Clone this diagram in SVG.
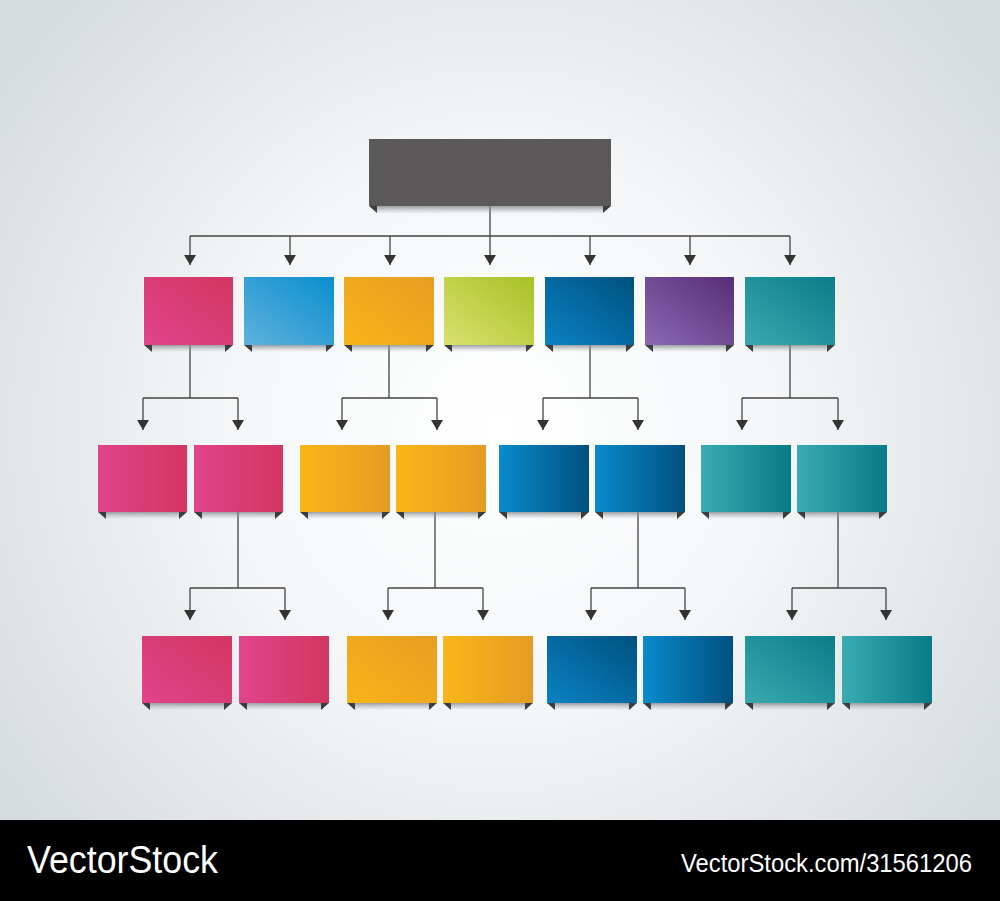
<svg xmlns="http://www.w3.org/2000/svg" width="1000" height="901" viewBox="0 0 1000 901">
<defs>
<radialGradient id="bg" cx="500" cy="430" r="620" gradientUnits="userSpaceOnUse">
<stop offset="0" stop-color="#ffffff"/>
<stop offset="0.45" stop-color="#f4f6f7"/>
<stop offset="1" stop-color="#d6dbde"/>
</radialGradient>
<linearGradient id="gPink" x1="0" y1="1" x2="1" y2="0"><stop offset="0" stop-color="#e0448c"/><stop offset="1" stop-color="#d3365f"/></linearGradient>
<linearGradient id="gBlueL" x1="0" y1="1" x2="1" y2="0"><stop offset="0" stop-color="#5fb1dc"/><stop offset="1" stop-color="#0a8fce"/></linearGradient>
<linearGradient id="gOrange" x1="0" y1="1" x2="1" y2="0"><stop offset="0" stop-color="#f8b418"/><stop offset="1" stop-color="#e69e22"/></linearGradient>
<linearGradient id="gGreen" x1="0" y1="1" x2="1" y2="0"><stop offset="0" stop-color="#d9e16e"/><stop offset="1" stop-color="#a7c126"/></linearGradient>
<linearGradient id="gBlue" x1="0" y1="1" x2="1" y2="0"><stop offset="0" stop-color="#0a82c4"/><stop offset="1" stop-color="#00517f"/></linearGradient>
<linearGradient id="gPurple" x1="0" y1="1" x2="1" y2="0"><stop offset="0" stop-color="#8c69b3"/><stop offset="1" stop-color="#582d77"/></linearGradient>
<linearGradient id="gTeal" x1="0" y1="1" x2="1" y2="0"><stop offset="0" stop-color="#3aa9af"/><stop offset="1" stop-color="#0a7d8a"/></linearGradient>
<linearGradient id="hPink" x1="0" y1="0" x2="1" y2="0"><stop offset="0" stop-color="#e0448c"/><stop offset="1" stop-color="#d3365f"/></linearGradient>
<linearGradient id="hOrange" x1="0" y1="0" x2="1" y2="0"><stop offset="0" stop-color="#f9b618"/><stop offset="1" stop-color="#e49c24"/></linearGradient>
<linearGradient id="hBlue" x1="0" y1="0" x2="1" y2="0"><stop offset="0" stop-color="#0a8bcd"/><stop offset="1" stop-color="#00507f"/></linearGradient>
<linearGradient id="hTeal" x1="0" y1="0" x2="1" y2="0"><stop offset="0" stop-color="#3aabb1"/><stop offset="1" stop-color="#087b88"/></linearGradient>
<linearGradient id="shadow" x1="0" y1="0" x2="0" y2="1"><stop offset="0" stop-color="#7d8285" stop-opacity="0.75"/><stop offset="1" stop-color="#a0a5a8" stop-opacity="0"/></linearGradient>
<marker id="arr" markerUnits="userSpaceOnUse" markerWidth="10" markerHeight="12" refX="10" refY="6" orient="auto">
<path d="M0,0 L10,6 L0,12 z" fill="#333"/>
</marker>
</defs>
<style>
.ln{stroke:#444;stroke-width:1.3;fill:none}
.ar{stroke:#444;stroke-width:1.3;fill:none;marker-end:url(#arr)}
.tab{fill:#3d3d3d}
.sh{fill:url(#shadow)}
.foot{fill:#ffffff;font-family:"Liberation Sans",Arial,sans-serif}
</style>
<rect x="0" y="0" width="1000" height="901" fill="url(#bg)"/>

<g id="connectors">
<path class="ln" d="M490,206 V236 M190,236 H790"/>
<path class="ar" d="M190,236 V265"/><path class="ar" d="M290,236 V265"/><path class="ar" d="M390,236 V265"/><path class="ar" d="M490,236 V265"/><path class="ar" d="M590,236 V265"/><path class="ar" d="M690,236 V265"/><path class="ar" d="M790,236 V265"/>
<path class="ln" d="M190,345 V398 M143,398 H238"/>
<path class="ar" d="M143,398 V430"/><path class="ar" d="M238,398 V430"/>
<path class="ln" d="M389,345 V398 M342,398 H437"/>
<path class="ar" d="M342,398 V430"/><path class="ar" d="M437,398 V430"/>
<path class="ln" d="M590,345 V398 M543,398 H638"/>
<path class="ar" d="M543,398 V430"/><path class="ar" d="M638,398 V430"/>
<path class="ln" d="M790,345 V398 M742,398 H838"/>
<path class="ar" d="M742,398 V430"/><path class="ar" d="M838,398 V430"/>
<path class="ln" d="M238,512 V588 M190,588 H285"/>
<path class="ar" d="M190,588 V620"/><path class="ar" d="M285,588 V620"/>
<path class="ln" d="M435,512 V588 M388,588 H483"/>
<path class="ar" d="M388,588 V620"/><path class="ar" d="M483,588 V620"/>
<path class="ln" d="M638,512 V588 M591,588 H685"/>
<path class="ar" d="M591,588 V620"/><path class="ar" d="M685,588 V620"/>
<path class="ln" d="M838,512 V588 M792,588 H886"/>
<path class="ar" d="M792,588 V620"/><path class="ar" d="M886,588 V620"/>
</g>

<g id="root"><rect class="sh" x="377" y="206" width="226" height="8"/><rect x="369" y="139" width="242" height="67" fill="#5a5859"/><path class="tab" d="M369,206 h8 v7 z M611,206 h-8 v7 z"/></g>

<g id="r1a"><rect class="sh" x="152" y="345" width="73" height="7"/><rect x="144" y="277" width="89" height="68" fill="url(#gPink)"/><path class="tab" d="M144,345 h8 v7 z M233,345 h-8 v7 z"/></g>
<g id="r1b"><rect class="sh" x="252" y="345" width="74" height="7"/><rect x="244" y="277" width="90" height="68" fill="url(#gBlueL)"/><path class="tab" d="M244,345 h8 v7 z M334,345 h-8 v7 z"/></g>
<g id="r1c"><rect class="sh" x="352" y="345" width="74" height="7"/><rect x="344" y="277" width="90" height="68" fill="url(#gOrange)"/><path class="tab" d="M344,345 h8 v7 z M434,345 h-8 v7 z"/></g>
<g id="r1d"><rect class="sh" x="452" y="345" width="74" height="7"/><rect x="444" y="277" width="90" height="68" fill="url(#gGreen)"/><path class="tab" d="M444,345 h8 v7 z M534,345 h-8 v7 z"/></g>
<g id="r1e"><rect class="sh" x="553" y="345" width="73" height="7"/><rect x="545" y="277" width="89" height="68" fill="url(#gBlue)"/><path class="tab" d="M545,345 h8 v7 z M634,345 h-8 v7 z"/></g>
<g id="r1f"><rect class="sh" x="653" y="345" width="73" height="7"/><rect x="645" y="277" width="89" height="68" fill="url(#gPurple)"/><path class="tab" d="M645,345 h8 v7 z M734,345 h-8 v7 z"/></g>
<g id="r1g"><rect class="sh" x="753" y="345" width="74" height="7"/><rect x="745" y="277" width="90" height="68" fill="url(#gTeal)"/><path class="tab" d="M745,345 h8 v7 z M835,345 h-8 v7 z"/></g>

<g id="r2a"><rect class="sh" x="106" y="512" width="73" height="7"/><rect x="98" y="445" width="89" height="67" fill="url(#hPink)"/><path class="tab" d="M98,512 h8 v7 z M187,512 h-8 v7 z"/></g>
<g id="r2b"><rect class="sh" x="202" y="512" width="73" height="7"/><rect x="194" y="445" width="89" height="67" fill="url(#hPink)"/><path class="tab" d="M194,512 h8 v7 z M283,512 h-8 v7 z"/></g>
<g id="r2c"><rect class="sh" x="308" y="512" width="74" height="7"/><rect x="300" y="445" width="90" height="67" fill="url(#hOrange)"/><path class="tab" d="M300,512 h8 v7 z M390,512 h-8 v7 z"/></g>
<g id="r2d"><rect class="sh" x="404" y="512" width="74" height="7"/><rect x="396" y="445" width="90" height="67" fill="url(#hOrange)"/><path class="tab" d="M396,512 h8 v7 z M486,512 h-8 v7 z"/></g>
<g id="r2e"><rect class="sh" x="507" y="512" width="74" height="7"/><rect x="499" y="445" width="90" height="67" fill="url(#hBlue)"/><path class="tab" d="M499,512 h8 v7 z M589,512 h-8 v7 z"/></g>
<g id="r2f"><rect class="sh" x="603" y="512" width="74" height="7"/><rect x="595" y="445" width="90" height="67" fill="url(#hBlue)"/><path class="tab" d="M595,512 h8 v7 z M685,512 h-8 v7 z"/></g>
<g id="r2g"><rect class="sh" x="709" y="512" width="74" height="7"/><rect x="701" y="445" width="90" height="67" fill="url(#hTeal)"/><path class="tab" d="M701,512 h8 v7 z M791,512 h-8 v7 z"/></g>
<g id="r2h"><rect class="sh" x="805" y="512" width="74" height="7"/><rect x="797" y="445" width="90" height="67" fill="url(#hTeal)"/><path class="tab" d="M797,512 h8 v7 z M887,512 h-8 v7 z"/></g>

<g id="r3a"><rect class="sh" x="150" y="703" width="74" height="7"/><rect x="142" y="636" width="90" height="67" fill="url(#gPink)"/><path class="tab" d="M142,703 h8 v7 z M232,703 h-8 v7 z"/></g>
<g id="r3b"><rect class="sh" x="247" y="703" width="74" height="7"/><rect x="239" y="636" width="90" height="67" fill="url(#hPink)"/><path class="tab" d="M239,703 h8 v7 z M329,703 h-8 v7 z"/></g>
<g id="r3c"><rect class="sh" x="355" y="703" width="74" height="7"/><rect x="347" y="636" width="90" height="67" fill="url(#gOrange)"/><path class="tab" d="M347,703 h8 v7 z M437,703 h-8 v7 z"/></g>
<g id="r3d"><rect class="sh" x="451" y="703" width="74" height="7"/><rect x="443" y="636" width="90" height="67" fill="url(#hOrange)"/><path class="tab" d="M443,703 h8 v7 z M533,703 h-8 v7 z"/></g>
<g id="r3e"><rect class="sh" x="555" y="703" width="74" height="7"/><rect x="547" y="636" width="90" height="67" fill="url(#gBlue)"/><path class="tab" d="M547,703 h8 v7 z M637,703 h-8 v7 z"/></g>
<g id="r3f"><rect class="sh" x="651" y="703" width="74" height="7"/><rect x="643" y="636" width="90" height="67" fill="url(#hBlue)"/><path class="tab" d="M643,703 h8 v7 z M733,703 h-8 v7 z"/></g>
<g id="r3g"><rect class="sh" x="753" y="703" width="74" height="7"/><rect x="745" y="636" width="90" height="67" fill="url(#gTeal)"/><path class="tab" d="M745,703 h8 v7 z M835,703 h-8 v7 z"/></g>
<g id="r3h"><rect class="sh" x="850" y="703" width="74" height="7"/><rect x="842" y="636" width="90" height="67" fill="url(#hTeal)"/><path class="tab" d="M842,703 h8 v7 z M932,703 h-8 v7 z"/></g>

<g id="footer">
<rect x="0" y="820" width="1000" height="81" fill="#000"/>
<text class="foot" x="27" y="873" font-size="38" textLength="191" lengthAdjust="spacingAndGlyphs">VectorStock</text>
<text class="foot" x="681" y="872" font-size="26" textLength="291" lengthAdjust="spacingAndGlyphs">VectorStock.com/31561206</text>
</g>
</svg>
